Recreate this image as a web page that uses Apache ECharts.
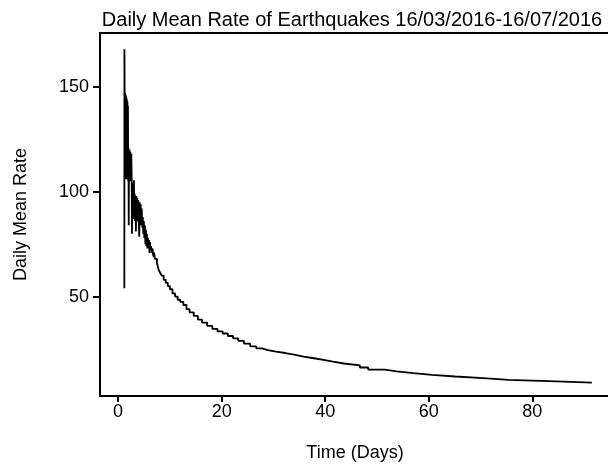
<!DOCTYPE html>
<html>
<head>
<meta charset="utf-8">
<title>Daily Mean Rate of Earthquakes</title>
<script src="https://cdn.jsdelivr.net/npm/echarts@6/dist/echarts.min.js"></script>
<style>
  html, body { margin: 0; padding: 0; background: #fff; }
  #chart { width: 608px; height: 464px; }
</style>
</head>
<body>
<div id="chart"></div>
<script>
// Time since the start of the sequence (days) and the daily mean rate at each step
const days = [
  1.20, 1.22, 1.26, 1.30, 1.34, 1.38, 1.42, 1.46, 1.50, 1.55, 1.60, 1.65, 1.70, 1.75, 1.80, 1.85, 1.90,
  1.95, 2.00, 2.05, 2.10, 2.15, 2.22, 2.30, 2.38, 2.46, 2.54, 2.62, 2.68, 2.74,
  2.82, 2.90, 2.98, 3.06, 3.12, 3.20, 3.28, 3.36, 3.44, 3.52, 3.60, 3.70, 3.80, 3.90, 4.00, 4.08,
  4.16, 4.26, 4.36, 4.46, 4.56, 4.66, 4.76,
  4.86, 4.96, 5.06, 5.16, 5.26, 5.36, 5.46, 5.56, 5.66, 5.76, 5.86, 5.96, 6.06, 6.16, 6.26, 6.36,
  6.50, 6.62, 6.76, 6.86, 6.96,
  7.10, 7.50, 7.80, 8.10, 8.40, 8.80, 9.20, 9.60, 10.0, 10.5, 11.0, 11.5, 12.0, 12.6, 13.2, 13.8,
  14.6, 15.4, 16.2, 17.2, 18.2, 19.2, 20.2, 21.2, 22.2, 23.2, 24.3, 25.5, 26.7, 27.8, 28.9, 30.5,
  32.3, 34.0, 35.8, 37.8, 39.7, 41.5, 43.6, 46.7, 48.3, 51.5, 53.8, 57.0, 60.6, 65.1, 65.35,
  70.5, 75.4, 84.7, 84.9, 91.5
];
const rate = [
  54, 168, 147.5, 107, 147, 106, 146, 108, 146, 106, 145, 107, 144, 106, 143, 108, 141,
  105, 121, 84, 120, 105, 120, 106, 119, 105, 118, 106, 80, 104,
  90, 99, 87, 105.5, 88, 99, 86, 98, 81, 98, 86, 97, 86, 96, 85, 78.5,
  95, 85, 94, 84, 92, 83, 88,
  80, 86, 78, 84, 75, 82, 74, 80, 73, 78, 73, 77, 70.8, 76, 72, 74,
  71, 73, 70, 69, 71,
  68, 66, 63, 61.5, 60, 58, 56.5, 55, 53.5, 51.5, 50, 48.5, 47.5, 46, 44, 42.5,
  40.8, 39, 37.6, 36, 34.6, 33.4, 32.4, 31.2, 30.1, 28.9, 27.6, 26.3, 25.3, 24.5, 23.8, 23.1,
  22.3, 21.4, 20.6, 19.8, 19.0, 18.1, 17.2, 16.2, 15.2, 14.3, 13.5, 12.7, 11.9, 11.6, 11.1,
  10.3, 9.6, 9.4, 9.0, 9.0
];

// Tick positions on each axis
const xTicks = [0, 20, 40, 60, 80];
const yTicks = [50, 100, 150];

const seriesData = days.map((d, i) => [d, rate[i]]);

const FONT = "'Liberation Sans', Arial, sans-serif";
const chart = echarts.init(document.getElementById('chart'), null, { renderer: 'canvas' });

chart.setOption({
  animation: false,
  backgroundColor: '#ffffff',
  title: {
    text: 'Daily Mean Rate of Earthquakes 16/03/2016-16/07/2016',
    left: 352,
    top: 10,
    textAlign: 'center',
    padding: 0,
    textStyle: { fontFamily: FONT, fontSize: 20, fontWeight: 'normal', color: '#000' }
  },
  grid: {
    left: 100,
    right: -2,
    top: 33,
    bottom: 68,
    show: true,
    borderColor: '#000',
    borderWidth: 2,
    backgroundColor: 'transparent',
    outerBoundsMode: 'none'
  },
  xAxis: {
    type: 'value',
    min: -3.5,
    max: 95,
    name: 'Time (Days)',
    nameLocation: 'middle',
    nameGap: 48,
    nameTextStyle: { fontFamily: FONT, fontSize: 18, color: '#000' },
    axisLine: { show: true, onZero: false, lineStyle: { color: '#000', width: 2 } },
    axisTick: { show: true, inside: false, length: 6, customValues: xTicks, lineStyle: { color: '#000', width: 2 } },
    axisLabel: { customValues: xTicks, margin: 7, fontFamily: FONT, fontSize: 18, color: '#000' },
    splitLine: { show: false }
  },
  yAxis: {
    type: 'value',
    min: 2.6,
    max: 175.7,
    name: 'Daily Mean Rate',
    nameLocation: 'middle',
    nameGap: 70,
    nameTextStyle: { fontFamily: FONT, fontSize: 18, color: '#000' },
    axisLine: { show: true, onZero: false, lineStyle: { color: '#000', width: 2 } },
    axisTick: { show: true, inside: false, length: 7, customValues: yTicks, lineStyle: { color: '#000', width: 2 } },
    axisLabel: { customValues: yTicks, margin: 11, fontFamily: FONT, fontSize: 18, color: '#000' },
    splitLine: { show: false }
  },
  series: [{
    type: 'line',
    data: seriesData,
    step: 'end',
    showSymbol: false,
    symbol: 'none',
    clip: true,
    lineStyle: { color: '#000', width: 1.8 },
    emphasis: { disabled: true }
  }]
});
</script>
</body>
</html>
